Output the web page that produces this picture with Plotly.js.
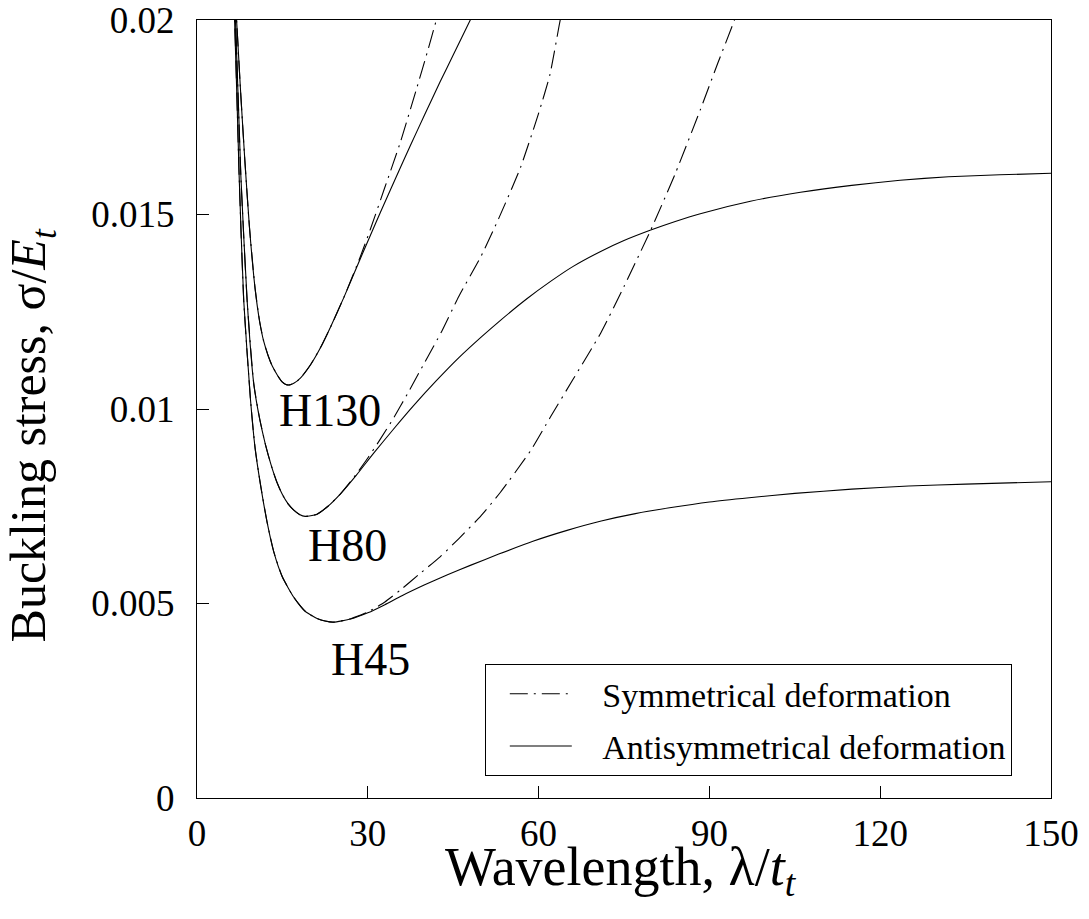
<!DOCTYPE html>
<html>
<head>
<meta charset="utf-8">
<script src="https://cdn.plot.ly/plotly-3.0.1.min.js"></script>
<style>
html,body{margin:0;padding:0;background:#fff;}
#chart{width:1089px;height:919px;}
svg text{font-family:"Liberation Serif","Times New Roman",serif !important;}
</style>
</head>
<body>
<div id="chart"></div>
<script>
// ---- Data ----
// H130
const h130AntiX = [6.6, 6.95, 7.6, 8.4, 9.2, 10.2, 11.0, 11.7, 12.5, 13.2, 14.2, 15.0, 15.6, 16.3, 17.0, 18.2, 20.0, 21.7, 23.5, 25.8, 28.7, 30.5, 32.2, 35.0, 37.5, 40.0, 42.7, 45.0, 48.0, 49.0];
const h130AntiY = [0.0206, 0.0200, 0.0183, 0.0164, 0.0147, 0.0131, 0.01225, 0.01175, 0.01137, 0.01111, 0.01085, 0.01069, 0.01063, 0.01062, 0.01066, 0.0108, 0.01115, 0.01158, 0.01212, 0.01287, 0.01387, 0.01448, 0.01505, 0.01597, 0.01678, 0.01757, 0.01841, 0.0191, 0.0200, 0.0203];
const h130SymX = [6.6, 6.95, 7.6, 8.4, 9.2, 10.2, 11.0, 11.7, 12.5, 13.2, 14.2, 15.0, 15.6, 16.3, 17.0, 18.2, 20.0, 21.7, 23.5, 25.8, 28.7, 30.45, 33.0, 35.7, 38.5, 40.5, 42.04, 42.6];
const h130SymY = [0.0206, 0.0200, 0.0183, 0.0164, 0.0147, 0.0131, 0.01225, 0.01175, 0.01137, 0.01111, 0.01085, 0.01069, 0.01063, 0.01062, 0.01066, 0.0108, 0.01115, 0.01158, 0.01212, 0.01287, 0.01392, 0.01462, 0.0157, 0.01685, 0.0182, 0.0192, 0.0200, 0.0203];
// H80
const h80AntiX = [6.45, 6.75, 7.7, 8.8, 9.96, 11.0, 12.0, 13.0, 14.0, 15.0, 16.0, 17.0, 18.0, 19.0, 21.0, 23.0, 25.2, 28.0, 31.0, 34.5, 38.0, 42.0, 46.0, 50.0, 53.3, 58.0, 62.1, 66.0, 70.9, 75.0, 79.7, 84.0, 88.4, 97.2, 106.0, 115.0, 123.5, 132.0, 141.0, 150.0];
const h80AntiY = [0.0206, 0.0200, 0.0160, 0.0128, 0.01066, 0.00975, 0.00910, 0.00857, 0.00813, 0.00780, 0.00756, 0.00740, 0.00729, 0.00724, 0.00729, 0.00750, 0.00782, 0.00830, 0.00886, 0.00948, 0.01008, 0.01072, 0.01132, 0.01186, 0.01228, 0.01284, 0.01328, 0.01366, 0.01405, 0.01433, 0.01460, 0.01482, 0.01502, 0.01534, 0.01557, 0.01575, 0.01588, 0.01597, 0.01602, 0.01606];
const h80SymX = [6.45, 6.75, 7.7, 8.8, 9.96, 11.0, 12.0, 13.0, 14.0, 15.0, 16.0, 17.0, 18.0, 19.0, 21.0, 23.0, 25.2, 28.0, 30.0, 32.0, 34.5, 37.0, 40.0, 43.0, 46.0, 49.8, 53.0, 56.8, 60.0, 62.0, 63.8, 64.3];
const h80SymY = [0.0206, 0.0200, 0.0160, 0.0128, 0.01066, 0.00975, 0.00910, 0.00857, 0.00813, 0.00780, 0.00756, 0.00740, 0.00729, 0.00724, 0.00729, 0.00750, 0.00782, 0.00833, 0.00874, 0.00918, 0.00976, 0.0104, 0.0112, 0.0120, 0.0129, 0.0139, 0.0149, 0.0162, 0.0176, 0.0186, 0.0200, 0.0203];
// H45
const h45AntiX = [6.3, 6.6, 7.4, 8.2, 9.4, 10.2, 11.1, 12.3, 13.5, 15.0, 17.0, 19.0, 21.0, 22.5, 24.0, 27.0, 30.0, 33.0, 36.0, 40.0, 44.0, 48.0, 53.0, 59.0, 65.0, 71.0, 77.0, 83.0, 90.0, 97.0, 105.0, 115.0, 125.0, 135.0, 150.0];
const h45AntiY = [0.0206, 0.0200, 0.0160, 0.0128, 0.01023, 0.0090, 0.00810, 0.0071, 0.00632, 0.00568, 0.00516, 0.00480, 0.00462, 0.00455, 0.00452, 0.00460, 0.00476, 0.00497, 0.00520, 0.00548, 0.00574, 0.00598, 0.00627, 0.00660, 0.00688, 0.00712, 0.00731, 0.00746, 0.00761, 0.00772, 0.00783, 0.00794, 0.00802, 0.00807, 0.00813];
const h45SymX = [6.3, 6.6, 7.4, 8.2, 9.4, 10.2, 11.1, 12.3, 13.5, 15.0, 17.0, 19.0, 21.0, 22.5, 24.0, 27.0, 30.0, 33.0, 36.0, 39.0, 42.7, 46.0, 49.8, 53.3, 58.6, 62.1, 66.0, 70.9, 75.0, 79.7, 84.0, 88.4, 91.5, 94.4, 95.0];
const h45SymY = [0.0206, 0.0200, 0.0160, 0.0128, 0.01023, 0.0090, 0.00810, 0.0071, 0.00632, 0.00568, 0.00516, 0.00480, 0.00462, 0.00455, 0.00452, 0.00461, 0.00478, 0.00504, 0.00538, 0.00575, 0.00620, 0.00667, 0.00724, 0.00786, 0.00893, 0.0098, 0.01075, 0.01195, 0.01315, 0.0146, 0.01605, 0.01769, 0.0189, 0.0200, 0.0203];

const seriesNames = ['Symmetrical deformation', 'Antisymmetrical deformation'];
const labelText = ['H130', 'H80', 'H45'];
const labelX = [23.4, 26.4, 30.45];
const labelY = [0.00997, 0.00648, 0.00355];
const xTicks = [0, 30, 60, 90, 120, 150];
const yTicks = [0, 0.005, 0.01, 0.015, 0.02];
const yTickText = ['0', '0.005', '0.01', '0.015', '0.02'];
const xTitle = 'Wavelength, λ/<i>t</i><sub><i>t</i></sub>';
const yTitle = 'Buckling stress, σ/<i>E</i><sub><i>t</i></sub>';

const FONT = 'Liberation Serif';
const symDash = '18px,6px,2px,6px';
const PAD = '\u00a0\u00a0\u00a0';

function tr(x, y, sym, first) {
  return {
    x: x, y: y, type: 'scatter', mode: 'lines',
    line: {color: '#000', width: 1.1, dash: sym ? symDash : 'solid', shape: 'spline', smoothing: 0.5},
    name: PAD + (sym ? seriesNames[0] : seriesNames[1]),
    legendgroup: sym ? 'sym' : 'anti',
    legendrank: sym ? 1 : 2,
    showlegend: first,
    hoverinfo: 'skip'
  };
}

const data = [
  tr(h130SymX, h130SymY, true, true),
  tr(h80SymX, h80SymY, true, false),
  tr(h45SymX, h45SymY, true, false),
  tr(h130AntiX, h130AntiY, false, true),
  tr(h80AntiX, h80AntiY, false, false),
  tr(h45AntiX, h45AntiY, false, false)
];

const annotations = labelText.map((t, i) => ({
  x: labelX[i], y: labelY[i], xref: 'x', yref: 'y', text: t, showarrow: false,
  font: {family: FONT, size: 46, color: '#000'}, xanchor: 'center', yanchor: 'middle'
}));
annotations.push({
  x: 0.497, y: -0.0935, xref: 'paper', yref: 'paper', text: xTitle, showarrow: false,
  xanchor: 'center', yanchor: 'middle', font: {family: FONT, size: 54, color: '#000'}
});
annotations.push({
  x: -0.1927, y: 0.4666, xref: 'paper', yref: 'paper', text: yTitle, showarrow: false,
  textangle: -90, xanchor: 'center', yanchor: 'middle', font: {family: FONT, size: 50, color: '#000'}
});

const layout = {
  width: 1089, height: 919,
  margin: {l: 197, r: 38, t: 20, b: 121},
  paper_bgcolor: '#fff', plot_bgcolor: '#fff',
  showlegend: true,
  legend: {
    x: 0.337, y: 0.172, xanchor: 'left', yanchor: 'top',
    bgcolor: '#fff', bordercolor: '#000', borderwidth: 1,
    font: {family: FONT, size: 34, color: '#000'},
    itemwidth: 62, indentation: 19,
    traceorder: 'grouped', tracegroupgap: 5
  },
  xaxis: {
    range: [0, 150], tickvals: xTicks, ticktext: xTicks.map(String),
    ticks: 'inside', ticklen: 12, tickwidth: 1, tickcolor: '#000',
    showline: true, linecolor: '#000', linewidth: 1, mirror: true,
    showgrid: false, zeroline: false,
    tickfont: {family: FONT, size: 37, color: '#000'},
    ticklabelstandoff: 3, ticklabeloverflow: 'allow',
    automargin: false
  },
  yaxis: {
    range: [0, 0.02], tickvals: yTicks, ticktext: yTickText,
    ticks: 'inside', ticklen: 12, tickwidth: 1, tickcolor: '#000',
    showline: true, linecolor: '#000', linewidth: 1, mirror: true,
    showgrid: false, zeroline: false,
    tickfont: {family: FONT, size: 37, color: '#000'},
    ticklabelstandoff: 14, ticklabeloverflow: 'allow',
    automargin: false
  },
  annotations: annotations
};

Plotly.newPlot('chart', data, layout, {displayModeBar: false, staticPlot: true});
</script>
</body>
</html>
